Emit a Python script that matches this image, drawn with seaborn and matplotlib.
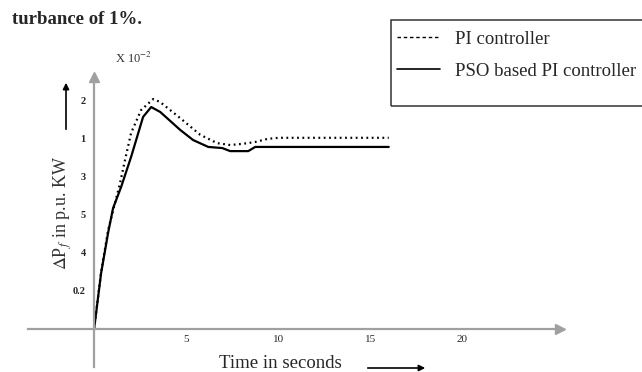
import matplotlib
matplotlib.use("Agg")
import matplotlib.pyplot as plt
import seaborn as sns
from matplotlib.lines import Line2D
from matplotlib.patches import Rectangle

# values (y in tick-step units, 1 step = one labelled tick)
t_pi = [0, 0.38, 0.76, 1.41, 1.68, 2.01, 2.55, 3.21, 3.59, 4.67, 5.76, 6.68,
        7.39, 8.04, 8.75, 9.40, 10.0, 16.0]
dp_pi = [0, 1.50, 2.60, 3.84, 4.45, 5.16, 5.76, 6.05, 5.97, 5.55, 5.11, 4.89,
         4.84, 4.87, 4.92, 5.00, 5.03, 5.03]

t_pso = [0, 0.38, 0.76, 1.03, 1.47, 2.01, 2.66, 3.10, 3.59, 4.67, 5.38, 6.20,
         6.96, 7.39, 8.37, 8.75, 10.1, 16.0]
dp_pso = [0, 1.47, 2.53, 3.18, 3.74, 4.53, 5.58, 5.84, 5.71, 5.24, 4.97, 4.79,
          4.76, 4.68, 4.68, 4.79, 4.79, 4.79]

x_ticks = [5, 10, 15, 20]
y_ticks = [1, 2, 3, 4, 5, 6]
y_tick_labels = ["0.2", "4", "5", "3", "1", "2"]

sns.set_style("white")
plt.rcParams["font.family"] = ["Liberation Serif", "DejaVu Serif"]
plt.rcParams["mathtext.fontset"] = "stix"

W, H = 642, 372
fig = plt.figure(figsize=(W / 100, H / 100), dpi=100)
ax = fig.add_axes([28 / W, 5 / H, (560 - 28) / W, (367 - 77) / H])

sns.lineplot(x=t_pi, y=dp_pi, ax=ax, color="black", linewidth=1.6,
             linestyle=(0, (0.8, 1.6)), sort=False)
sns.lineplot(x=t_pso, y=dp_pso, ax=ax, color="black", linewidth=1.6, sort=False)

ax.set_xlim(-3.59, 25.3)
ax.set_ylim(-1.0, 6.63)

# axes drawn through the origin, grey with arrow heads
grey = "#a0a0a0"
for side in ["top", "right"]:
    ax.spines[side].set_visible(False)
ax.spines["left"].set_position(("data", 0))
ax.spines["bottom"].set_position(("data", 0))
for side in ["left", "bottom"]:
    ax.spines[side].set_color(grey)
    ax.spines[side].set_linewidth(1.6)
ax.plot(1, 0, ">", color=grey, markersize=7, transform=ax.get_yaxis_transform(), clip_on=False)
ax.plot(0, 1, "^", color=grey, markersize=7, transform=ax.get_xaxis_transform(), clip_on=False)

ax.set_xticks(x_ticks)
ax.set_xticklabels([str(v) for v in x_ticks], fontsize=8)
ax.set_yticks(y_ticks)
ax.set_yticklabels(y_tick_labels, fontsize=7.5, fontweight="bold")
ax.tick_params(axis="x", direction="in", length=5, width=1, color=grey, pad=4)
ax.tick_params(axis="y", length=0, pad=6)
ax.set_xlabel("")
ax.set_ylabel("")

# texts around the plot
fig.text(12 / W, 1 - 20 / H, "turbance of 1%.", fontsize=13.5, fontweight="bold",
         va="center", ha="left")
fig.text(115 / W, 1 - 58 / H, r"X 10$^{-2}$", fontsize=9, va="center", ha="left", color="#333333")
fig.text(63 / W, 1 - 213 / H, r"$\Delta$P$_{f}$ in p.u. KW", fontsize=13, rotation=90,
         va="center", ha="center", color="#333333")
fig.text(280 / W, 1 - 363 / H, "Time in seconds", fontsize=13.5, va="center", ha="center")

ax.annotate("", xy=(66 / W, 1 - 80 / H), xytext=(66 / W, 1 - 132 / H),
            xycoords="figure fraction", textcoords="figure fraction",
            arrowprops=dict(arrowstyle="-|>", color="black", lw=1.2, mutation_scale=9))
ax.annotate("", xy=(428 / W, 1 - 368 / H), xytext=(365 / W, 1 - 368 / H),
            xycoords="figure fraction", textcoords="figure fraction",
            arrowprops=dict(arrowstyle="-|>", color="black", lw=1.2, mutation_scale=9))

# legend box (runs off the right edge, as in the source)
fig.patches.append(Rectangle((391 / W, 1 - 106 / H), 270 / W, 86 / H,
                             transform=fig.transFigure, fill=False,
                             edgecolor="#333333", linewidth=1.1))
handles = [Line2D([], [], color="black", linewidth=1, linestyle=(0, (2.5, 2))),
           Line2D([], [], color="black", linewidth=1.2)]
fig.legend(handles, ["PI controller", "PSO based PI controller"],
           loc="upper left", bbox_to_anchor=(391 / W, 1 - 25 / H),
           frameon=False, fontsize=13.5, handlelength=2.3, handletextpad=0.8,
           borderpad=0.3, labelspacing=0.78, borderaxespad=0)

fig.savefig("out.png", dpi=100)
